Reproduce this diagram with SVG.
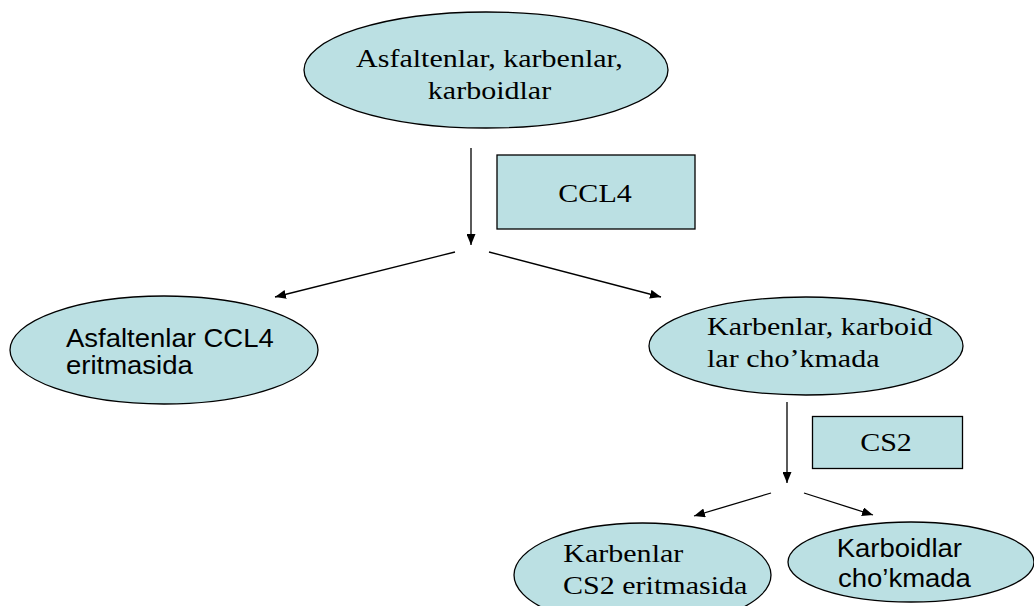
<svg xmlns="http://www.w3.org/2000/svg" width="1034" height="606" viewBox="0 0 1034 606">
<defs>
<marker id="ah" viewBox="0 0 11 9" refX="11" refY="4.5" markerWidth="11" markerHeight="9" markerUnits="userSpaceOnUse" orient="auto">
<path d="M0,0 L11,4.5 L0,9 z" fill="#000"/>
</marker>
<style>
.shape{fill:#bbe0e3;stroke:#000;stroke-width:1.3}
.serif{font-family:"Liberation Serif","Times New Roman",serif;font-size:26px;fill:#000}
.sans{font-family:"Liberation Sans",Arial,sans-serif;font-size:25px;fill:#000}
.mid{text-anchor:middle}
.conn{stroke:#000;stroke-width:1.3;fill:none;marker-end:url(#ah)}
</style>
</defs>
<rect width="1034" height="606" fill="#fff"/>
<g id="connectors">
<line class="conn" x1="471" y1="148" x2="471" y2="245"/>
<line class="conn" x1="455" y1="252" x2="275" y2="297"/>
<line class="conn" x1="489" y1="252" x2="661" y2="297"/>
<line class="conn" x1="787" y1="402" x2="787" y2="483"/>
<line class="conn" x1="771" y1="493" x2="694" y2="516"/>
<line class="conn" x1="804" y1="493" x2="873" y2="515"/>
</g>
<g id="top">
<ellipse class="shape" cx="486" cy="70" rx="182" ry="58"/>
<text class="serif mid" transform="scale(1.155,1)" x="423.8" y="67">Asfaltenlar, karbenlar,</text>
<text class="serif mid" transform="scale(1.155,1)" x="423.8" y="99">karboidlar</text>
</g>
<g id="ccl4">
<rect class="shape" x="497" y="155" width="198" height="74"/>
<text class="serif mid" transform="scale(1.155,1)" x="515.2" y="202">CCL4</text>
</g>
<g id="asfaltenlar">
<ellipse class="shape" cx="164" cy="350" rx="154" ry="54"/>
<text class="sans" transform="scale(1.1,1)" x="60" y="347">Asfaltenlar CCL4</text>
<text class="sans" transform="scale(1.1,1)" x="60" y="374">eritmasida</text>
</g>
<g id="karbenlar-karboidlar">
<ellipse class="shape" cx="806" cy="346" rx="157" ry="49"/>
<text class="serif" transform="scale(1.155,1)" x="612.1" y="335">Karbenlar, karboid</text>
<text class="serif" transform="scale(1.155,1)" x="612.1" y="367">lar cho’kmada</text>
</g>
<g id="cs2">
<rect class="shape" x="812.5" y="416.5" width="150" height="52"/>
<text class="serif mid" transform="scale(1.155,1)" x="767.1" y="451">CS2</text>
</g>
<g id="karbenlar">
<ellipse class="shape" cx="642.5" cy="575" rx="128.5" ry="52"/>
<text class="serif" transform="scale(1.155,1)" x="487.7" y="562">Karbenlar</text>
<text class="serif" transform="scale(1.155,1)" x="487.5" y="594">CS2 eritmasida</text>
</g>
<g id="karboidlar">
<ellipse class="shape" cx="911" cy="562" rx="123" ry="40"/>
<text class="sans" transform="scale(1.1,1)" x="760.6" y="557">Karboidlar</text>
<text class="sans" transform="scale(1.1,1)" x="761.8" y="587">cho’kmada</text>
</g>
</svg>
